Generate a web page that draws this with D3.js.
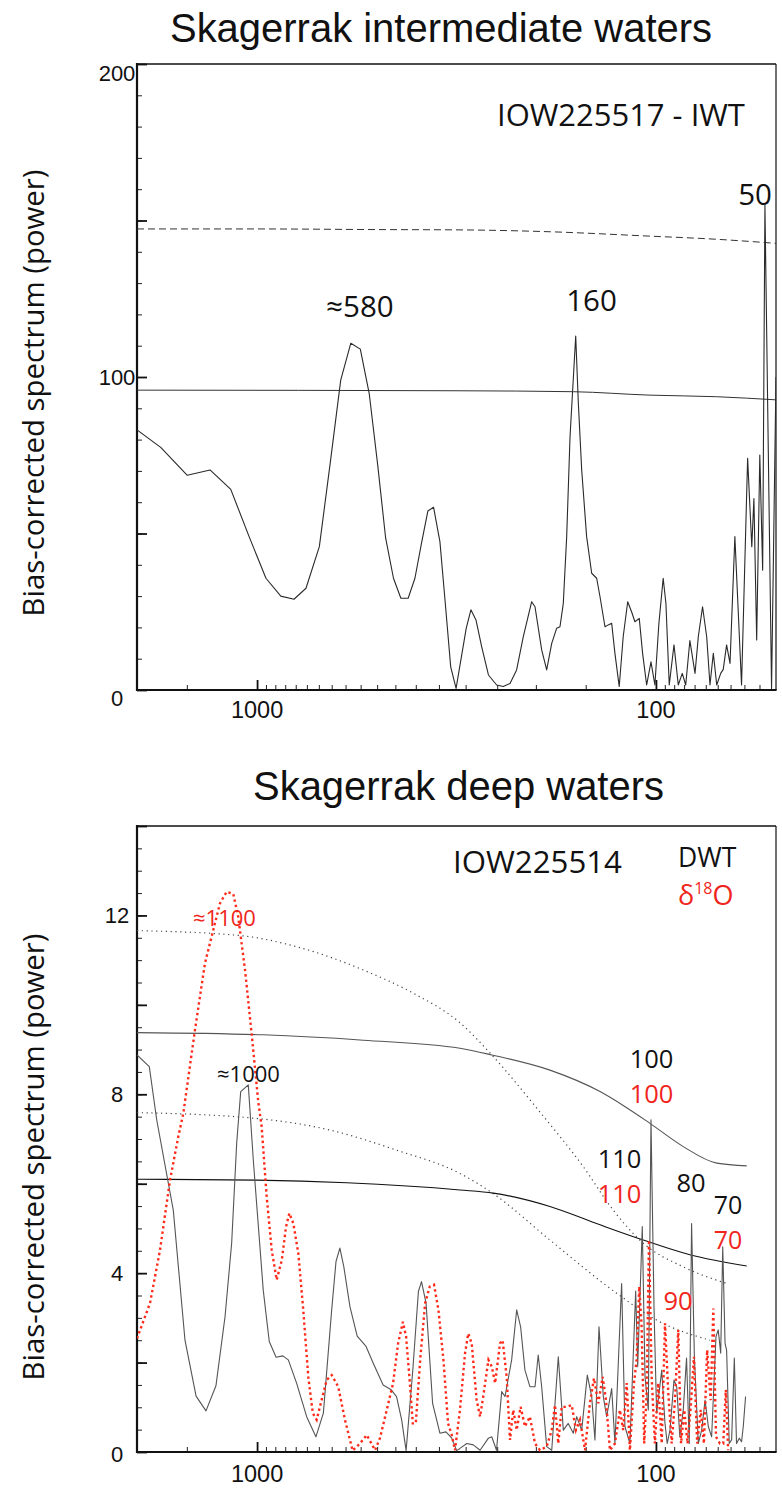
<!DOCTYPE html>
<html>
<head>
<meta charset="utf-8">
<script src="https://cdn.jsdelivr.net/npm/d3@7"></script>
<style>
  html, body { margin: 0; padding: 0; background: #fff; }
  svg { display: block; }
</style>
</head>
<body>
<svg id="chart" width="782" height="1488"></svg>
<script>
// ---------- Axis tick values ----------
const periodLabels = [1000, 100];
const periodMinorTicks = [1500, 950, 900, 850, 800, 750, 700, 650, 600, 550, 500, 450, 400, 350,
  300, 250, 200, 150, 95, 90, 85, 80, 75, 70, 65, 60, 55];
const iwtPowerLabels = [0, 100, 200];
const dwtPowerLabels = [0, 4, 8, 12];

// ---------- Skagerrak intermediate waters (IOW225517, IWT) ----------
const iwtPeriod = [2000, 1744, 1496, 1312, 1164, 1047, 950, 872, 808, 754, 698, 654, 617, 582, 551,
  523.5, 498.5, 476, 455, 436, 418, 402, 387, 373, 361, 348, 337, 327, 317,
  299, 291, 282.6, 273.4, 263, 250.8, 241.4, 232.2, 223.5, 215.1, 204.9, 201, 193.4, 187.9, 182.5,
  177.4, 174, 170.7, 167.4, 164.2, 158.9, 156.5, 153.5, 149.2, 144.9, 140.8, 138.1, 134.2, 131.7,
  129.1, 126.7, 123.6, 120.8, 117.7, 115.1, 112.9, 110.1, 108, 105.5, 102.9, 100.6, 98.3, 95.9,
  94.4, 92.6, 90.1, 87.9, 85.9, 84.2, 82.2, 79.8, 78.3, 76.4, 74.6, 73.2, 71.8, 70.4, 68.8, 67.8,
  66.5, 65.2, 63.4, 61, 58.9, 57.5, 56.8, 55.9, 54.9, 54, 53.3, 51.3, 50];
const iwtPower = [83.1, 77.5, 68.6, 70.3, 64.1, 49.0, 35.7, 30.0, 29.0, 32.5, 45.8, 73.5, 99.0, 110.8, 108.9,
  94.8, 72, 48.5, 35.7, 29.3, 29.3, 35.7, 46.9, 57.2, 58.4, 47.4, 27, 7.4, 0.5,
  19.7, 25.6, 22.4, 13.8, 4.8, 1.6, 1.1, 2.1, 6.4, 17.0, 28.2, 26.6, 12.8, 6.4, 14.9,
  19.7, 20.2, 27.7, 49.0, 80.9, 113.1, 91.6, 70.3, 49, 37.3, 35.7, 29.8, 20.2, 20.8,
  21.3, 11.7, 1.1, 17.0, 28.2, 25.0, 21.8, 22.9, 11.7, 1.6, 9.0, 1.6, 21.3, 35.7,
  27.7, 1.6, 14.4, 1.6, 5.3, 1.6, 15.8, 5.3, 17.0, 26.6, 17.0, 1.6, 11.7, 1.6, 5.3, 6.6,
  14.4, 8.5, 49.0, 1.6, 74.0, 45.8, 61.2, 16.0, 75.1, 38.3, 155, 0.5, 100];

// significance levels (upper dashed, lower solid)
const iwtSigHighPeriod = [2000, 1000, 500, 310, 184, 103.5, 70.4, 50];
const iwtSigHigh = [147.3, 147.3, 147.1, 147.0, 146.4, 145.0, 144.0, 142.7];
const iwtSigLowPeriod = [2000, 310, 161, 103.5, 70.4, 50];
const iwtSigLow = [95.8, 95.6, 95.3, 94.2, 93.7, 92.7];

// ---------- Skagerrak deep waters (IOW225514): DWT and d18O ----------
const dwtPeriod = [2000, 1863, 1785, 1622, 1516, 1422, 1343, 1268, 1203, 1158,
  1125, 1099, 1052, 1038, 1022, 965, 932, 896, 862, 835,
  796, 751, 712, 682, 650, 634, 620, 606, 585, 561,
  533, 511, 483, 462, 447, 434, 423, 407, 394, 387,
  377, 363, 348, 336, 325, 316, 310, 298, 287, 276,
  263, 258, 251, 243.6, 239, 230, 223.4, 218.4, 213, 207,
  201, 197.3, 193.4, 187.9, 182.5, 175.7, 170.7, 165.9, 161.1, 158,
  153.5, 148.6, 144.9, 142.2, 138.9, 135.5, 132.9, 129.1, 126.7, 121.9,
  119.6, 116.2, 112.4, 111.1, 108.2, 106.5, 104.5, 102.9, 101.1, 99.6,
  96.7, 94.9, 93.7, 92.2, 90.1, 88.7, 87.1, 85.4, 83.8, 82.5,
  81.4, 80.1, 78.3, 76.8, 75.3, 73.9, 72.5, 70.7, 69.8, 68.8,
  68.0, 67.1, 66.5, 65.5, 64.6, 63.6, 62.8, 61.8, 61.0, 60.4, 59.6];
const dwtPower = [8.88, 8.62, 7.43, 5.41, 2.50, 1.25, 0.92, 1.48, 3.03, 4.67,
  6.90, 8.06, 8.21, 7.43, 6.53, 3.62, 2.47, 2.12, 2.15, 2.06,
  1.54, 0.79, 0.34, 0.87, 3.18, 4.26, 4.56, 4.14, 3.25, 2.59,
  2.36, 1.98, 1.50, 1.40, 1.24, 0.72, 0.03, 1.83, 3.59, 3.81,
  3.33, 1.09, 0.42, 0.45, 0.31, 0.03, 0.08, 0.19, 0.16, 0.04,
  0.31, 0.34, 0.04, 1.35, 1.24, 2.06, 3.18, 2.80, 1.83, 1.46,
  1.46, 2.17, 1.46, 0.12, 0.04, 2.13, 0.49, 0.64, 0.42, 0.79,
  0.49, 1.72, 1.24, 0.27, 2.80, 1.24, 0.79, 1.42, 0.19, 3.77,
  0.57, 0.19, 3.6, 1.91, 5.04, 1.68, 0.94, 7.43, 3.18, 0.87,
  1.83, 0.64, 0.19, 0.49, 1.61, 1.46, 0.34, 0.94, 2.10, 0.19,
  5.11, 2.13, 0.19, 0.49, 1.16, 0.57, 0.34, 2.58, 2.73, 2.21,
  4.59, 2.43, 2.28, 0.19, 0.27, 2.10, 0.19, 0.31, 0.23, 0.57, 1.24];

const d18oPeriod = [2000, 1855, 1751, 1653, 1576, 1531, 1431, 1351, 1288, 1239,
  1192, 1147, 1115, 1072, 1032, 993, 974, 946, 919, 893,
  867, 846, 830, 811, 788, 766, 744, 725, 709, 689,
  669, 650, 626, 602, 576, 552, 531, 506, 492, 473,
  456, 443, 431, 423, 415, 407, 400, 390, 379, 369,
  360, 351, 341, 332, 325, 319, 310, 301, 295.5, 289.7,
  281.5, 276, 271, 263, 258, 253, 246, 242.3, 236.7, 232.2,
  227.9, 223.4, 218.4, 213, 207, 201, 195.3, 187.9, 182.5, 179.1,
  175.7, 172.3, 167.4, 162.6, 158.7, 155, 150.6, 146.4, 143, 139.5,
  136, 133.4, 130.4, 126.7, 123.1, 120.8, 118.4, 116.2, 113.5, 111.8,
  110.1, 108.6, 107, 105.5, 104.1, 102.5, 100.6, 98.7, 96.7, 94.9,
  93.1, 91.3, 89.6, 87.9, 86.5, 84.9, 83.3, 81.9, 80.3, 78.8,
  77.2, 75.8, 74.4, 72.9, 71.8, 70.7, 69.1, 67.8, 66.8, 65.9];
const d18oPower = [2.54, 3.33, 4.52, 6.08, 7.05, 7.57, 9.44, 10.93, 11.67, 12.27,
  12.53, 12.48, 11.97, 10.78, 9.36, 7.83, 7.28, 5.71, 4.52, 3.85,
  4.29, 5.04, 5.34, 5.11, 4.44, 3.18, 1.68, 0.87, 0.72, 1.16,
  1.61, 1.72, 1.46, 0.72, 0.03, 0.19, 0.38, 0.04, 0.31, 0.94,
  1.54, 2.43, 2.91, 2.58, 1.68, 0.64, 0.64, 2.06, 3.33, 3.70,
  3.74, 3.18, 2.06, 0.64, 0.38, 0.04, 0.94, 2.21, 2.65, 2.43,
  1.16, 0.79, 1.24, 2.06, 1.91, 1.54, 2.43, 2.50, 1.68, 0.27,
  0.94, 0.49, 1.01, 0.57, 0.79, 0.19, 0.04, 0.12, 0.49, 1.05,
  0.19, 1.01, 1.01, 1.05, 0.49, 0.72, 0.04, 1.09, 1.65, 1.09,
  1.68, 1.16, 0.04, 0.19, 0.94, 0.49, 1.54, 0.04, 1.54, 2.06,
  3.70, 2.80, 0.19, 1.31, 4.74, 1.68, 0.19, 1.54, 0.19, 2.88,
  1.31, 0.19, 1.16, 2.73, 0.19, 0.94, 0.19, 0.94, 2.13, 0.19,
  0.94, 0.19, 2.28, 1.16, 3.21, 0.34, 0.19, 0.19, 1.39, 0.04];

// significance levels: DWT (solid), d18O (dotted)
const dwtSigHighPeriod = [2000, 965, 541.6, 310, 258, 184.4, 138.1, 120.8, 103.5, 85.4, 70.4, 59.2];
const dwtSigHigh = [9.38, 9.33, 9.21, 9.03, 8.88, 8.54, 8.06, 7.75, 7.35, 6.83, 6.46, 6.40];
const dwtSigLowPeriod = [2000, 1002, 596, 310, 255.7, 184.4, 138.1, 107.6, 82.2, 59.2];
const dwtSigLow = [6.10, 6.08, 6.02, 5.86, 5.79, 5.49, 5.08, 4.74, 4.41, 4.16];
const d18oSigHighPeriod = [2000, 1103.6, 795.6, 541.6, 405.8, 310, 258, 197.3, 152.1, 128, 107.6, 85.4, 66.5];
const d18oSigHigh = [11.66, 11.55, 11.30, 10.78, 10.26, 9.60, 8.88, 7.65, 6.38, 5.41, 4.67, 4.14, 3.77];
const d18oSigLowPeriod = [2000, 1002, 656.6, 446.7, 310, 253.2, 184.4, 125.4, 99.6, 73.2];
const d18oSigLow = [7.59, 7.46, 7.20, 6.75, 6.23, 5.75, 4.74, 3.55, 2.95, 2.50];

// ---------- Drawing ----------
const svg = d3.select("#chart");
const helv = "'Liberation Sans', Arial, Helvetica, sans-serif";
const humanist = "'Open Sans', 'Noto Sans', sans-serif";
const red = "#f0251c";

const left = 137, right = 776;
const x = d3.scaleLog().domain([2000, 50]).range([left, right]);

// set a text element's font size so its rendered width equals the target
function fitWidth(sel, target) {
  const w = sel.node().getComputedTextLength();
  const fs = parseFloat(sel.attr("font-size"));
  sel.attr("font-size", (fs * target / w).toFixed(2));
  return sel;
}

function drawPanel(opt) {
  const y = d3.scaleLinear().domain([0, opt.yMax]).range([opt.bottom, opt.top]);
  const g = svg.append("g");

  const clipId = "clip-" + opt.id;
  svg.append("clipPath").attr("id", clipId)
    .append("rect").attr("x", left).attr("y", opt.top)
    .attr("width", right - left).attr("height", opt.bottom - opt.top);

  // frame
  g.append("line").attr("x1", left).attr("x2", right).attr("y1", opt.top).attr("y2", opt.top)
    .attr("stroke", "#111").attr("stroke-width", 1.6);
  g.append("line").attr("x1", right).attr("x2", right).attr("y1", opt.top).attr("y2", opt.bottom)
    .attr("stroke", "#111").attr("stroke-width", 1.2);

  // y axis: minor and major ticks pointing into the plot
  const yMinor = d3.range(0, opt.yMax + 1e-9, opt.yMinorStep);
  const yMajor = d3.range(0, opt.yMax + 1e-9, opt.yMajorStep);
  g.append("g").attr("transform", `translate(${left},0)`)
    .call(d3.axisLeft(y).tickValues(yMinor).tickSize(-5).tickFormat(""))
    .call(a => a.select(".domain").remove())
    .call(a => a.selectAll("line").attr("stroke", "#222").attr("stroke-width", 1));
  g.append("g").attr("transform", `translate(${left},0)`)
    .call(d3.axisLeft(y).tickValues(yMajor).tickSize(-10).tickFormat(""))
    .call(a => a.select(".domain").remove())
    .call(a => a.selectAll("line").attr("stroke", "#111").attr("stroke-width", 1.8));

  g.selectAll(".ylab").data(opt.yLabels).join("text")
    .attr("x", 117)
    .attr("y", d => y(d) + (opt.labelShift[d] || 0))
    .attr("dy", "0.36em")
    .attr("text-anchor", "middle")
    .attr("font-family", helv).attr("font-size", 22)
    .attr("fill", "#111")
    .text(d => d);

  // x axis (period, log scale, decreasing to the right)
  g.append("g").attr("transform", `translate(0,${opt.bottom})`)
    .call(d3.axisBottom(x).tickValues(periodMinorTicks).tickSize(-5).tickFormat(""))
    .call(a => a.select(".domain").remove())
    .call(a => a.selectAll("line").attr("stroke", "#222").attr("stroke-width", 1));
  g.append("g").attr("transform", `translate(0,${opt.bottom})`)
    .call(d3.axisBottom(x).tickValues(periodLabels).tickSize(-10).tickFormat(""))
    .call(a => a.select(".domain").remove())
    .call(a => a.selectAll("line").attr("stroke", "#111").attr("stroke-width", 1.8));

  g.selectAll(".xlab").data(periodLabels).join("text")
    .attr("x", d => x(d))
    .attr("y", opt.bottom + opt.xLabelOffset)
    .attr("text-anchor", "middle")
    .attr("font-family", helv).attr("font-size", 23.5)
    .attr("fill", "#111")
    .text(d => d);

  // left and bottom axis lines
  g.append("line").attr("x1", left).attr("x2", left).attr("y1", opt.top - 1).attr("y2", opt.bottom + 1)
    .attr("stroke", "#111").attr("stroke-width", 2.2);
  g.append("line").attr("x1", left - 1).attr("x2", right + 0.6).attr("y1", opt.bottom).attr("y2", opt.bottom)
    .attr("stroke", "#111").attr("stroke-width", 2.2);

  // y axis title
  const yt = g.append("text")
    .attr("transform", `translate(33,${opt.titleCenter}) rotate(-90)`)
    .attr("text-anchor", "middle")
    .attr("dominant-baseline", "central")
    .attr("font-family", humanist).attr("font-size", 28)
    .attr("fill", "#111")
    .text("Bias-corrected spectrum (power)");
  fitWidth(yt, 447);

  // panel title
  const tt = svg.append("text")
    .attr("x", opt.headX).attr("y", opt.headY)
    .attr("text-anchor", "middle")
    .attr("font-family", helv).attr("font-size", 40)
    .attr("fill", "#111")
    .text(opt.title);
  fitWidth(tt, opt.headWidth);

  const plot = svg.append("g").attr("clip-path", `url(#${clipId})`);
  return { y, plot };
}

function lineOf(y, curve) {
  const l = d3.line().x(d => x(d[0])).y(d => y(d[1]));
  if (curve) l.curve(curve);
  return l;
}

// ----- upper panel -----
const top1 = drawPanel({
  id: "iwt", top: 64, bottom: 690, yMax: 200, yMinorStep: 10, yMajorStep: 50,
  yLabels: iwtPowerLabels, labelShift: { 0: 8, 200: 9 }, xLabelOffset: 28,
  titleCenter: 393, title: "Skagerrak intermediate waters", headX: 441, headY: 42, headWidth: 542
});

top1.plot.append("path")
  .attr("d", lineOf(top1.y, d3.curveMonotoneX)(d3.zip(iwtSigHighPeriod, iwtSigHigh)))
  .attr("fill", "none").attr("stroke", "#333").attr("stroke-width", 1)
  .attr("stroke-dasharray", "7 4");
top1.plot.append("path")
  .attr("d", lineOf(top1.y, d3.curveMonotoneX)(d3.zip(iwtSigLowPeriod, iwtSigLow)))
  .attr("fill", "none").attr("stroke", "#333").attr("stroke-width", 1);
top1.plot.append("path")
  .attr("d", lineOf(top1.y)(d3.zip(iwtPeriod, iwtPower)))
  .attr("fill", "none").attr("stroke", "#2a2a2a").attr("stroke-width", 1.1)
  .attr("stroke-linejoin", "round");

const notes1 = [
  { t: "IOW225517 - IWT", x: 497, y: 126, anchor: "start", size: 31, fit: 248 },
  { t: "\u2248580", x: 360, y: 317, anchor: "middle", size: 29.5 },
  { t: "160", x: 591.5, y: 311, anchor: "middle", size: 29.5 },
  { t: "50", x: 755, y: 205, anchor: "middle", size: 29.5 }
];
notes1.forEach(n => {
  const s = svg.append("text").attr("x", n.x).attr("y", n.y)
    .attr("text-anchor", n.anchor).attr("font-family", humanist)
    .attr("font-size", n.size).attr("fill", "#111").text(n.t);
  if (n.fit) fitWidth(s, n.fit);
});

// ----- lower panel -----
const bot = drawPanel({
  id: "dwt", top: 826, bottom: 1452, yMax: 14, yMinorStep: 0.5, yMajorStep: 2,
  yLabels: dwtPowerLabels, labelShift: { 0: 2 }, xLabelOffset: 30,
  titleCenter: 1157, title: "Skagerrak deep waters", headX: 458.5, headY: 800, headWidth: 411
});

bot.plot.append("path")
  .attr("d", lineOf(bot.y, d3.curveMonotoneX)(d3.zip(d18oSigHighPeriod, d18oSigHigh)))
  .attr("fill", "none").attr("stroke", "#444").attr("stroke-width", 1.2)
  .attr("stroke-dasharray", "1.2 3.6");
bot.plot.append("path")
  .attr("d", lineOf(bot.y, d3.curveMonotoneX)(d3.zip(d18oSigLowPeriod, d18oSigLow)))
  .attr("fill", "none").attr("stroke", "#444").attr("stroke-width", 1.2)
  .attr("stroke-dasharray", "1.2 3.6");
bot.plot.append("path")
  .attr("d", lineOf(bot.y, d3.curveMonotoneX)(d3.zip(dwtSigHighPeriod, dwtSigHigh)))
  .attr("fill", "none").attr("stroke", "#555").attr("stroke-width", 1.1);
bot.plot.append("path")
  .attr("d", lineOf(bot.y, d3.curveMonotoneX)(d3.zip(dwtSigLowPeriod, dwtSigLow)))
  .attr("fill", "none").attr("stroke", "#111").attr("stroke-width", 1.1);

bot.plot.append("path")
  .attr("d", lineOf(bot.y)(d3.zip(dwtPeriod, dwtPower)))
  .attr("fill", "none").attr("stroke", "#555").attr("stroke-width", 1.1)
  .attr("stroke-linejoin", "round");
bot.plot.append("path")
  .attr("d", lineOf(bot.y)(d3.zip(d18oPeriod, d18oPower)))
  .attr("fill", "none").attr("stroke", "#ff2a1a").attr("stroke-width", 2.4)
  .attr("stroke-dasharray", "2.4 3");

const notes2 = [
  { t: "IOW225514", x: 453, y: 873, anchor: "start", size: 31, fill: "#111", fit: 169 },
  { t: "DWT", x: 678, y: 867, anchor: "start", size: 26.5, fill: "#111" },
  { t: "\u22481100", x: 193, y: 926, anchor: "start", size: 22, fill: red },
  { t: "\u22481000", x: 217, y: 1082, anchor: "start", size: 22, fill: "#111" },
  { t: "100", x: 651.5, y: 1068, anchor: "middle", size: 25.5, fill: "#111" },
  { t: "100", x: 651.5, y: 1103, anchor: "middle", size: 25.5, fill: red },
  { t: "110", x: 619.5, y: 1168, anchor: "middle", size: 25.5, fill: "#111" },
  { t: "110", x: 619.5, y: 1203, anchor: "middle", size: 25.5, fill: red },
  { t: "80", x: 691, y: 1192, anchor: "middle", size: 25.5, fill: "#111" },
  { t: "70", x: 728, y: 1214, anchor: "middle", size: 25, fill: "#111" },
  { t: "70", x: 728, y: 1249, anchor: "middle", size: 25, fill: red },
  { t: "90", x: 678, y: 1310, anchor: "middle", size: 25.5, fill: red }
];
notes2.forEach(n => {
  const s = svg.append("text").attr("x", n.x).attr("y", n.y)
    .attr("text-anchor", n.anchor).attr("font-family", humanist)
    .attr("font-size", n.size).attr("fill", n.fill).text(n.t);
  if (n.fit) fitWidth(s, n.fit);
});

// legend entry for the isotope series: delta-18-O
const iso = svg.append("text").attr("x", 678).attr("y", 905)
  .attr("font-family", humanist).attr("font-size", 27).attr("fill", red);
iso.append("tspan").text("\u03B4");
iso.append("tspan").attr("font-size", 16).attr("dy", -11).text("18");
iso.append("tspan").attr("dy", 11).text("O");
</script>
</body>
</html>
